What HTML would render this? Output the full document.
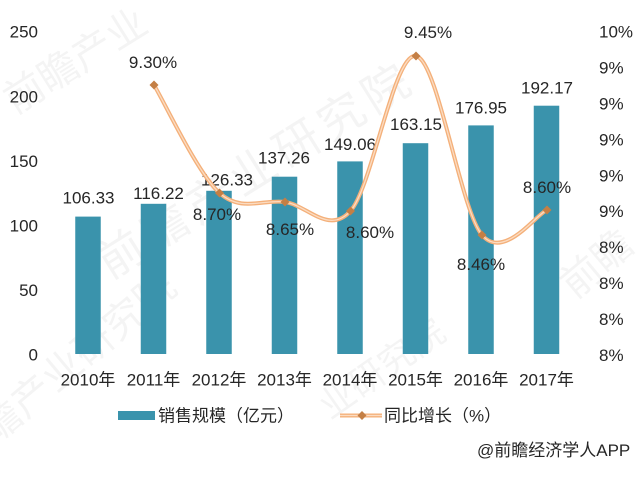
<!DOCTYPE html>
<html><head><meta charset="utf-8"><style>
html,body{margin:0;padding:0;background:#fff;}
svg{display:block;}
text{font-family:"Liberation Sans","Noto Sans CJK SC",sans-serif;fill:#262626;}
.wm{font-family:"Noto Sans CJK SC","WenQuanYi Zen Hei",sans-serif;fill:#000;opacity:0.04;font-weight:normal;}
</style></head><body>
<svg width="640" height="480" viewBox="0 0 640 480" xmlns="http://www.w3.org/2000/svg">
<rect width="640" height="480" fill="#fff"/>
<!-- watermarks -->
<text class="wm" x="0" y="0" font-size="40" transform="translate(15,115) rotate(-32)">前瞻产业</text>
<text class="wm" x="0" y="0" font-size="46" transform="translate(110,280) rotate(-32)" letter-spacing="6">前瞻产业研究院</text>
<text class="wm" x="0" y="0" font-size="40" transform="translate(-5,445) rotate(-40)">瞻产业研究院</text>
<text class="wm" x="0" y="0" font-size="36" transform="translate(330,420) rotate(-35)">业研究院</text>
<text class="wm" x="0" y="0" font-size="40" transform="translate(575,300) rotate(-40)">前瞻</text>

<!-- left axis -->
<g font-size="17" text-anchor="end">
<text x="38" y="37.7">250</text>
<text x="38" y="102.3">200</text>
<text x="38" y="166.9">150</text>
<text x="38" y="231.5">100</text>
<text x="38" y="296.1">50</text>
<text x="38" y="360.7">0</text>
</g>
<!-- right axis -->
<g font-size="17" text-anchor="start">
<text x="599" y="37.7">10%</text>
<text x="599" y="73.6">9%</text>
<text x="599" y="109.5">9%</text>
<text x="599" y="145.4">9%</text>
<text x="599" y="181.3">9%</text>
<text x="599" y="217.2">9%</text>
<text x="599" y="253.1">8%</text>
<text x="599" y="289">8%</text>
<text x="599" y="324.9">8%</text>
<text x="599" y="360.8">8%</text>
</g>

<!-- bars -->
<g fill="#3A93AC">
<rect x="75.25" y="216.6" width="25.5" height="137.4"/>
<rect x="140.75" y="203.8" width="25.5" height="150.2"/>
<rect x="206.25" y="190.8" width="25.5" height="163.2"/>
<rect x="271.75" y="176.7" width="25.5" height="177.3"/>
<rect x="337.25" y="161.4" width="25.5" height="192.6"/>
<rect x="402.75" y="143.2" width="25.5" height="210.8"/>
<rect x="468.25" y="125.4" width="25.5" height="228.6"/>
<rect x="533.75" y="105.7" width="25.5" height="248.3"/>
</g>

<!-- bar labels -->
<g font-size="17" text-anchor="middle">
<text x="88.5" y="203.5">106.33</text>
<text x="158.5" y="199">116.22</text>
<text x="227" y="185.5">126.33</text>
<text x="284" y="163.5">137.26</text>
<text x="350" y="150">149.06</text>
<text x="416" y="130">163.15</text>
<text x="481" y="113.5">176.95</text>
<text x="547" y="93.5">192.17</text>
</g>

<!-- growth line -->
<path d="M154,85 C164.9,103 197.7,173.5 219.5,193 C241.3,212.5 263.2,199 285,202 C306.8,205 328.7,235.3 350.5,211 C372.3,186.7 394.1,52 416,56 C437.9,60 460.2,209.3 482,235 C503.8,260.7 536.2,214.2 547,210"
 fill="none" stroke="#F4B07A" stroke-width="4" stroke-linecap="round" stroke-linejoin="round"/>
<path d="M154,85 C164.9,103 197.7,173.5 219.5,193 C241.3,212.5 263.2,199 285,202 C306.8,205 328.7,235.3 350.5,211 C372.3,186.7 394.1,52 416,56 C437.9,60 460.2,209.3 482,235 C503.8,260.7 536.2,214.2 547,210"
 fill="none" stroke="#FBDCC2" stroke-width="1.3" stroke-linecap="round"/>
<g fill="#C47F45">
<polygon points="154,80.5 158.5,85 154,89.5 149.5,85"/>
<polygon points="219.5,188.5 224,193 219.5,197.5 215,193"/>
<polygon points="285,197.5 289.5,202 285,206.5 280.5,202"/>
<polygon points="350.5,206.5 355,211 350.5,215.5 346,211"/>
<polygon points="416,51.5 420.5,56 416,60.5 411.5,56"/>
<polygon points="482,230.5 486.5,235 482,239.5 477.5,235"/>
<polygon points="547,205.5 551.5,210 547,214.5 542.5,210"/>
</g>

<!-- growth labels -->
<g font-size="17" text-anchor="middle">
<text x="153" y="68">9.30%</text>
<text x="217" y="220">8.70%</text>
<text x="290" y="235">8.65%</text>
<text x="370" y="238">8.60%</text>
<text x="428" y="38">9.45%</text>
<text x="481" y="270">8.46%</text>
<text x="547" y="193">8.60%</text>
</g>

<!-- x labels -->
<g font-size="17" text-anchor="middle">
<text x="88" y="385.5">2010年</text>
<text x="153.5" y="385.5">2011年</text>
<text x="219" y="385.5">2012年</text>
<text x="284.5" y="385.5">2013年</text>
<text x="350" y="385.5">2014年</text>
<text x="415.5" y="385.5">2015年</text>
<text x="481" y="385.5">2016年</text>
<text x="546.5" y="385.5">2017年</text>
</g>

<!-- legend -->
<rect x="118" y="411" width="37" height="9" fill="#3A93AC"/>
<text x="158" y="421.5" font-size="17">销售规模（亿元）</text>
<line x1="340" y1="415.5" x2="382" y2="415.5" stroke="#F4B07A" stroke-width="4"/>
<line x1="340" y1="415.5" x2="382" y2="415.5" stroke="#FBDCC2" stroke-width="1.3"/>
<polygon points="362,411 366.5,415.5 362,420 357.5,415.5" fill="#C47F45"/>
<text x="384" y="421.5" font-size="17">同比增长（%）</text>

<text x="477" y="456" font-size="17">@前瞻经济学人APP</text>
</svg>
</body></html>
